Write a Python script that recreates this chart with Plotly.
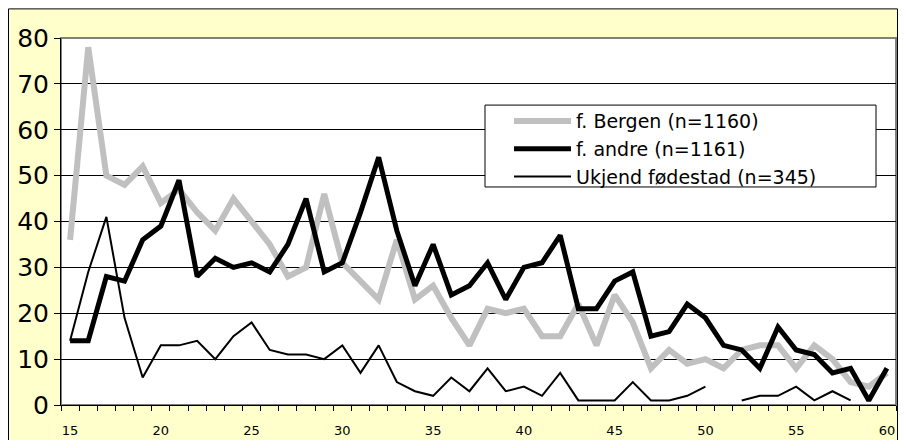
import plotly.graph_objects as go

ages = list(range(15, 61))

bergen = [36, 78, 50, 48, 52, 44, 47, 42, 38, 45,
          40, 35, 28, 30, 46, 31, 27, 23, 36, 23,
          26, 19, 13, 21, 20, 21, 15, 15, 22, 13,
          24, 18, 8, 12, 9, 10, 8, 12, 13, 13,
          8, 13, 10, 5, 4, 7]

andre = [14, 14, 28, 27, 36, 39, 49, 28, 32, 30,
         31, 29, 35, 45, 29, 31, 42, 54, 38, 26,
         35, 24, 26, 31, 23, 30, 31, 37, 21, 21,
         27, 29, 15, 16, 22, 19, 13, 12, 8, 17,
         12, 11, 7, 8, 1, 8]

ukjend = [14, 29, 41, 19, 6, 13, 13, 14, 10, 15,
          18, 12, 11, 11, 10, 13, 7, 13, 5, 3,
          2, 6, 3, 8, 3, 4, 2, 7, 1, 1,
          1, 5, 1, 1, 2, 4, None, 1, 2, 2,
          4, 1, 3, 1, None, None]

names = ["f. Bergen (n=1160)", "f. andre (n=1161)", "Ukjend fødestad (n=345)"]
x_labels = [15, 20, 25, 30, 35, 40, 45, 50, 55, 60]
y_ticks = [0, 10, 20, 30, 40, 50, 60, 70, 80]

fig = go.Figure()
fig.add_trace(go.Scatter(x=ages, y=bergen, mode="lines", name=names[0],
                         line=dict(color="#C0C0C0", width=6)))
fig.add_trace(go.Scatter(x=ages, y=andre, mode="lines", name=names[1],
                         line=dict(color="black", width=5)))
fig.add_trace(go.Scatter(x=ages, y=ukjend, mode="lines", name=names[2],
                         line=dict(color="black", width=2), connectgaps=False))

# page has an 8px body margin: keep the figure inside the window
# and work in screen px shifted by that margin
OFF = 8
W, H = 890, 432
L, R, T, B = 53, 2, 30, 30
pw, ph = W - L - R, H - T - B


def px(x):
    return (x - OFF - L) / pw


def py(y):
    return (H - B - (y - OFF)) / ph


# yellow chart area and white plot area
fig.add_shape(type="rect", xref="paper", yref="paper", layer="below",
              x0=px(8.5), x1=px(897.5), y0=py(8.5), y1=py(447),
              fillcolor="#FFFFCC", line=dict(color="black", width=1))
fig.add_shape(type="rect", xref="paper", yref="paper", layer="below",
              x0=0, x1=1, y0=0, y1=1,
              fillcolor="white", line=dict(color="#808080", width=2))
# legend box
fig.add_shape(type="rect", xref="paper", yref="paper", layer="above",
              x0=px(485), x1=px(876), y0=py(106), y1=py(189),
              fillcolor="white", line=dict(color="black", width=1))

fig.update_layout(
    width=W, height=H,
    margin=dict(l=L, r=R, t=T, b=B),
    paper_bgcolor="white",
    plot_bgcolor="white",
    font=dict(family="DejaVu Sans, Arial, sans-serif", color="black"),
    showlegend=True,
    legend=dict(x=px(509), y=py(103), xanchor="left", yanchor="top",
                bgcolor="rgba(0,0,0,0)", borderwidth=0,
                font=dict(size=19), itemwidth=57, tracegroupgap=0),
    xaxis=dict(range=[14.5, 60.5], tickvals=x_labels, ticks="",
               ticklabelstandoff=13,
               tickfont=dict(size=13), showgrid=False, zeroline=False,
               showline=True, linecolor="black", linewidth=1,
               minor=dict(tick0=14.5, dtick=1, ticks="outside", ticklen=5,
                          tickcolor="black", showgrid=False)),
    yaxis=dict(range=[0, 80], tickvals=y_ticks, ticks="outside", ticklen=6,
               tickcolor="black", tickfont=dict(size=25),
               showgrid=True, gridcolor="black", gridwidth=1, zeroline=False,
               showline=True, linecolor="black", linewidth=1),
)

fig.write_html("out.html")
